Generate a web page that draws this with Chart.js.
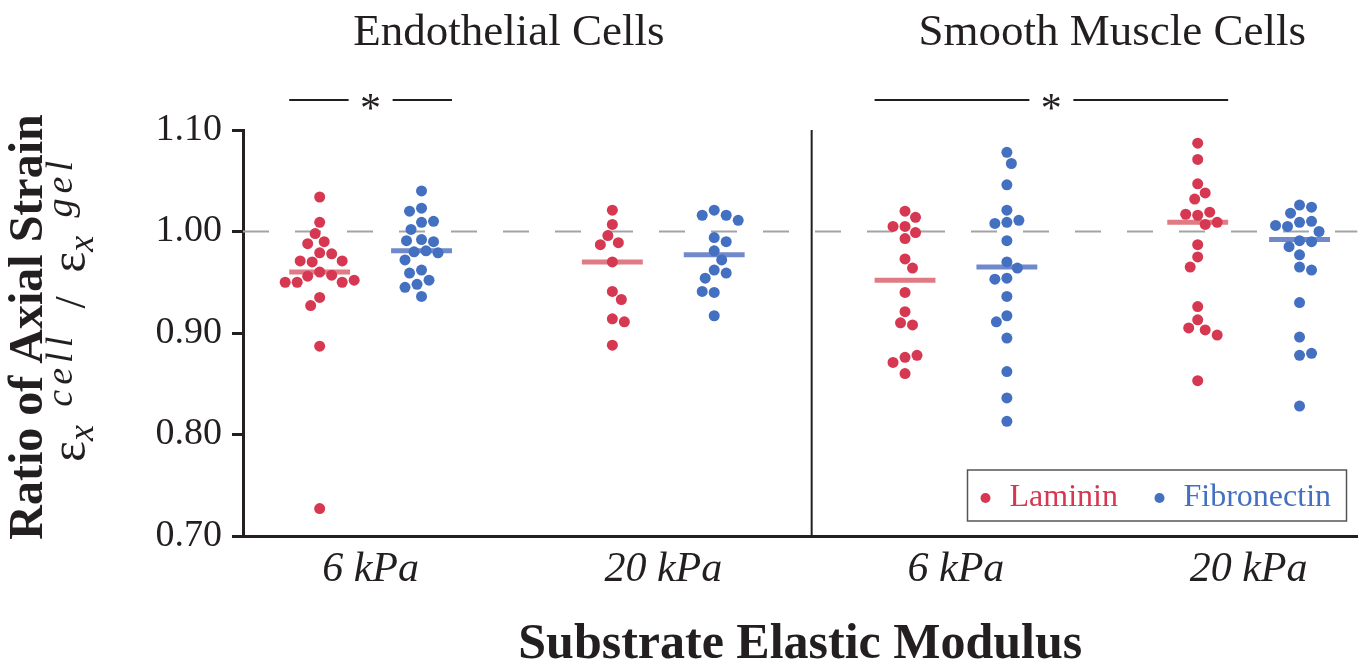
<!DOCTYPE html>
<html>
<head>
<meta charset="utf-8">
<script src="https://cdn.jsdelivr.net/npm/chart.js@4.4.1/dist/chart.umd.min.js"></script>
<style>
html,body{margin:0;padding:0;background:#fff;}
#wrap{width:1363px;height:666px;position:relative;}
</style>
</head>
<body>
<div id="wrap"><canvas id="c"></canvas></div>
<script>
// categories and labels
const xLabels = ['6 kPa', '20 kPa', '6 kPa', '20 kPa'];
const panelTitles = ['Endothelial Cells', 'Smooth Muscle Cells'];
const seriesNames = ['Laminin', 'Fibronectin'];

// ratio values, one array per group
const lamEC6 = [1.034,1.009,0.998,0.990,0.988,0.979,0.978,0.970,0.971,0.971,0.960,0.957,0.956,0.950,0.950,0.952,0.950,0.935,0.927,0.887,0.727];
const fibEC6 = [1.040,1.023,1.020,1.009,1.010,1.002,0.992,0.990,0.991,0.981,0.980,0.979,0.972,0.962,0.959,0.952,0.948,0.945,0.936];
const lamEC20 = [1.021,1.007,0.996,0.989,0.987,0.970,0.941,0.933,0.914,0.911,0.888];
const fibEC20 = [1.021,1.016,1.016,1.011,0.994,0.990,0.981,0.972,0.962,0.959,0.954,0.940,0.941,0.917];
const lamSMC6 = [1.020,1.014,1.005,1.005,0.999,0.993,0.973,0.964,0.940,0.921,0.910,0.908,0.876,0.878,0.871,0.860];
const fibSMC6 = [1.078,1.067,1.046,1.021,1.009,1.011,1.008,0.991,0.970,0.964,0.954,0.953,0.936,0.917,0.911,0.895,0.862,0.836,0.813];
const lamSMC20 = [1.087,1.071,1.047,1.038,1.032,1.016,1.017,1.019,1.009,1.007,0.987,0.975,0.965,0.926,0.913,0.903,0.905,0.898,0.853];
const fibSMC20 = [1.026,1.024,1.018,1.009,1.010,1.005,1.000,1.006,0.991,0.990,0.985,0.977,0.965,0.962,0.930,0.896,0.878,0.880,0.828];

// median bars
const lamMedian = [0.960, 0.970, 0.952, 1.009];
const fibMedian = [0.981, 0.977, 0.965, 0.992];

const lamGroups = [lamEC6, lamEC20, lamSMC6, lamSMC20];
const fibGroups = [fibEC6, fibEC20, fibSMC6, fibSMC20];

// layout constants
const SERIF = "'Liberation Serif','Times New Roman',serif";
const INK = '#231f20';
const RED = '#d63851';
const BLUE = '#4470c2';
const X_MIN = -0.436, X_MAX = 3.372;
const OFF = 0.174;   // series offset within a group
const HALF = 0.104;  // half width of median bar

function medianLine(meds, sign){
  const pts = [];
  meds.forEach((m,i)=>{
    const c = i + sign*OFF;
    pts.push({x:c-HALF, y:m}, {x:c+HALF, y:m}, {x:c+HALF+0.01, y:null});
  });
  return pts;
}
function startPoints(groups, sign){
  const pts = [];
  groups.forEach((g,i)=> g.forEach(v=> pts.push({x:i+sign*OFF, y:v})));
  return pts;
}

// decorations: titles, significance bars, divider, legend, axis titles
const decor = {
  id:'decor',
  afterDraw(chart){
    const {ctx, chartArea:a, scales:{x,y}} = chart;
    ctx.save();
    // divider between panels
    const xd = x.getPixelForValue(1.507);
    ctx.strokeStyle = INK; ctx.lineWidth = 2;
    ctx.beginPath(); ctx.moveTo(xd, a.top); ctx.lineTo(xd, a.bottom); ctx.stroke();

    // panel titles
    ctx.fillStyle = INK; ctx.textAlign = 'center'; ctx.textBaseline = 'alphabetic';
    ctx.font = '45px ' + SERIF;
    ctx.fillText(panelTitles[0], (x.getPixelForValue(0)+x.getPixelForValue(1))/2 - 8, 45);
    ctx.fillText(panelTitles[1], (x.getPixelForValue(2)+x.getPixelForValue(3))/2 + 10, 45);

    // significance bars
    const bars = [[0-OFF-HALF, 0+OFF+HALF], [2-OFF-HALF, 3-OFF+HALF]];
    bars.forEach(([v0,v1])=>{
      const p0 = x.getPixelForValue(v0), p1 = x.getPixelForValue(v1), pm = (p0+p1)/2;
      ctx.lineWidth = 2; ctx.strokeStyle = INK;
      ctx.beginPath();
      ctx.moveTo(p0, 100); ctx.lineTo(pm-22, 100);
      ctx.moveTo(pm+22, 100); ctx.lineTo(p1, 100);
      ctx.stroke();
      ctx.font = '42px ' + SERIF;
      ctx.fillText('*', pm, 122);
    });

    // legend box
    const lx = a.right - 390, ly = a.bottom - 66, lw = 379, lh = 51;
    ctx.fillStyle = '#fff'; ctx.fillRect(lx, ly, lw, lh);
    ctx.strokeStyle = '#555'; ctx.lineWidth = 1.5; ctx.strokeRect(lx, ly, lw, lh);
    ctx.font = '32px ' + SERIF; ctx.textAlign = 'left';
    [[RED, seriesNames[0], lx+18], [BLUE, seriesNames[1], lx+192]].forEach(([col,txt,px])=>{
      ctx.fillStyle = col;
      ctx.beginPath(); ctx.arc(px, ly+28, 5, 0, Math.PI*2); ctx.fill();
      ctx.fillText(txt, px+24, ly+36);
    });

    // x axis title
    ctx.fillStyle = INK; ctx.textAlign = 'center';
    ctx.font = 'bold 50px ' + SERIF;
    ctx.fillText('Substrate Elastic Modulus', (a.left+a.right)/2, 658);

    // y axis title, line 1
    ctx.save();
    ctx.translate(42, 327); ctx.rotate(-Math.PI/2);
    ctx.font = 'bold 48px ' + SERIF;
    ctx.fillText('Ratio of Axial Strain', 0, 0);
    ctx.restore();

    // y axis title, line 2: eps_x^cell / eps_x^gel
    const pieces = [
      {t:'\u03b5', f:'50px ', dy:0, ls:0},
      {t:'x', f:'italic 36px ', dy:8, ls:0},
      {t:'cell', f:'italic 38px ', dy:-13, ls:5},
      {t:'/', f:'44px ', dy:0, ls:0},
      {t:'\u03b5', f:'50px ', dy:0, ls:0},
      {t:'x', f:'italic 36px ', dy:8, ls:0},
      {t:'gel', f:'italic 38px ', dy:-13, ls:5}
    ];
    const gaps = [0, 0, 3, 8, 8, 0, 3];
    const stretch = [0, 0, 1, 1, 1, 0, 1];
    let total = 0;
    pieces.forEach((p,i)=>{
      ctx.font = p.f + SERIF; ctx.letterSpacing = p.ls + 'px';
      p.w = ctx.measureText(p.t).width; total += p.w + gaps[i];
    });
    const span = 306;
    const extra = Math.max(0, (span - total) / 4);
    ctx.save();
    ctx.translate(85, 309); ctx.rotate(-Math.PI/2);
    ctx.textAlign = 'left';
    let cx = -span/2;
    pieces.forEach((p,i)=>{
      cx += gaps[i] + stretch[i]*extra;
      ctx.font = p.f + SERIF; ctx.letterSpacing = p.ls + 'px';
      ctx.fillText(p.t, cx, p.dy);
      cx += p.w;
    });
    ctx.letterSpacing = '0px';
    ctx.restore();
    ctx.restore();
  }
};

const chart = new Chart(document.getElementById('c'), {
  type:'scatter',
  data:{
    datasets:[
      {label:seriesNames[0], data:startPoints(lamGroups,-1), backgroundColor:RED, pointRadius:5.5, borderWidth:0, order:0},
      {label:seriesNames[1], data:startPoints(fibGroups,1), backgroundColor:BLUE, pointRadius:5.5, borderWidth:0, order:0},
      {type:'line', label:'Laminin median', data:medianLine(lamMedian,-1), borderColor:'#e07a84', borderWidth:5, pointRadius:0, spanGaps:false, order:1},
      {type:'line', label:'Fibronectin median', data:medianLine(fibMedian,1), borderColor:'#7089cb', borderWidth:5, pointRadius:0, spanGaps:false, order:1},
      {type:'line', label:'ref', data:[{x:X_MIN,y:1},{x:X_MAX,y:1}], borderColor:'#a3a3a3', borderWidth:2, borderDash:[26,26], pointRadius:0, order:2}
    ]
  },
  options:{
    responsive:true,
    maintainAspectRatio:false,
    animation:false,
    events:[],
    layout:{padding:{left:0, right:3, top:130, bottom:0}},
    plugins:{legend:{display:false}, tooltip:{enabled:false}},
    scales:{
      x:{
        type:'linear', min:X_MIN, max:X_MAX,
        afterBuildTicks:(s)=>{ s.ticks = xLabels.map((_,i)=>({value:i})); },
        afterFit:(s)=>{ s.height = 130; },
        grid:{display:false, drawTicks:false},
        border:{display:true, width:3, color:INK},
        ticks:{callback:(v)=>xLabels[v], color:INK, padding:9, font:{family:SERIF, size:42, style:'italic'}, maxRotation:0, autoSkip:false}
      },
      y:{
        min:0.7, max:1.1,
        afterFit:(s)=>{ s.width = 243; },
        grid:{drawOnChartArea:false, drawTicks:true, tickLength:11, lineWidth:3, color:INK},
        border:{display:true, width:3, color:INK},
        ticks:{stepSize:0.1, callback:(v)=>v.toFixed(2), color:INK, padding:10, font:{family:SERIF, size:38}}
      }
    }
  },
  plugins:[decor]
});

// lay each group out as a simple beeswarm in pixel space
function swarm(groups, sign){
  const xs = chart.scales.x, ys = chart.scales.y;
  const unit = xs.getPixelForValue(1) - xs.getPixelForValue(0);
  const D = 11.8, step = 1.5;
  const out = [];
  groups.forEach((g,gi)=>{
    const center = gi + sign*OFF;
    const placed = [];
    g.forEach((v,i)=>{
      const py = ys.getPixelForValue(v);
      const pref = (i % 2) ? 1 : -1;
      let dx = 0;
      for(let k=0;k<400;k++){
        const cand = k === 0 ? 0 : pref * (k % 2 ? 1 : -1) * Math.ceil(k/2) * step;
        const ok = placed.every(p=> (cand-p.dx)**2 + (py-p.py)**2 >= D*D);
        if(ok){ dx = cand; break; }
      }
      placed.push({dx, py});
      out.push({x:center + dx/unit, y:v});
    });
  });
  return out;
}
chart.data.datasets[0].data = swarm(lamGroups,-1);
chart.data.datasets[1].data = swarm(fibGroups,1);
chart.update('none');
</script>
</body>
</html>
